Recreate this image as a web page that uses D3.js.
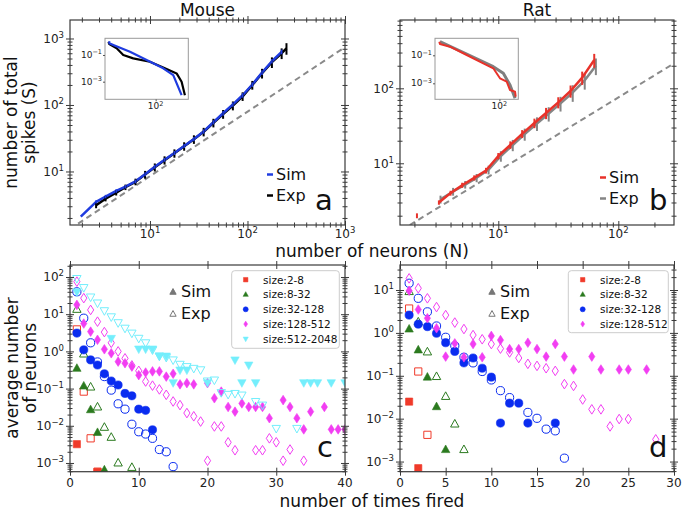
<!DOCTYPE html>
<html><head><meta charset="utf-8">
<script src="https://cdn.jsdelivr.net/npm/d3@7"></script>
<style>body{margin:0;background:#fff}svg{display:block}text{font-family:"DejaVu Sans",sans-serif;fill:#111}</style>
</head><body><svg id="chart" width="685" height="511"></svg>
<script>
// ---------- DATA ----------
// Panel a (Mouse): total spikes S vs neurons N
const mouseSimN = [1.95, 2.8, 3.5, 4.5, 5.6, 7.1, 8.9, 11.2, 14.1, 17.8, 22.4, 28.2, 35.5, 44.7, 56.2, 70.8, 89.1, 112, 141, 178, 224];
const mouseSimS = [2.1, 3.5, 4.2, 5.1, 5.9, 7.1, 9.1, 11.8, 15, 19, 24.2, 30.7, 40, 55, 75, 102, 140, 203, 307, 455, 630];
const mouseSimErr = [0, 0.2, 0.25, 0.3, 0.35, 0.45, 0.6, 0.8, 1.0, 1.3, 1.7, 2.2, 3, 4, 6, 8, 11, 16, 25, 35, 50];
const mouseExpN = [2.8, 3.5, 4.5, 5.6, 7.1, 8.9, 11.2, 14.1, 17.8, 22.4, 28.2, 35.5, 44.7, 56.2, 70.8, 89.1, 112, 141, 178, 224, 251];
const mouseExpS = [3.1, 3.9, 4.8, 5.8, 7.0, 9.0, 11.6, 14.8, 18.8, 24, 30.5, 39.5, 54, 73, 98, 135, 200, 300, 440, 600, 710];
const mouseExpErr = [0.3, 0.35, 0.45, 0.55, 0.8, 1.2, 1.6, 2.1, 2.7, 3.5, 4.5, 5.8, 8, 11, 15, 20, 30, 50, 80, 110, 140];
const mouseRefN = [1.83, 1000];
const mouseRefS = [1.64, 740];
// Panel a inset: P(S)
const insetMouseSimS = [2.14, 2.14, 2.99, 11.9, 47.4, 187.5, 430, 646, 861];
const insetMouseSimP = [1.05, 0.75, 0.557, 0.175, 0.0417, 0.01, 0.00309, 0.000407, 0.0000977];
const insetMouseExpS = [2.0, 2.14, 3.95, 6.82, 15.6, 61.7, 187.5, 569, 861, 1132];
const insetMouseExpP = [0.95, 0.66, 0.316, 0.1, 0.056, 0.031, 0.0117, 0.00417, 0.00098, 0.0000977];

// Panel b (Rat)
const ratSimN = [3.2, 4.0, 5.0, 6.3, 7.9, 10, 12.6, 15.8, 20, 25, 31.6, 40, 50, 63];
const ratSimS = [3.0, 4.0, 5.1, 6.4, 8.0, 12.5, 17.6, 24.7, 34.4, 46.8, 65, 92, 139, 238];
const ratSimErr = [0.2, 0.3, 0.4, 0.5, 0.7, 1.2, 2, 3, 5, 8, 11, 17, 28, 50];
const ratLoneN = [2.1];
const ratLoneS = [2.0];
const ratLoneErr = [0.15];
const ratExpN = [3.3, 4.2, 5.3, 6.6, 8.3, 10.5, 13.2, 16.6, 21, 26.3, 33, 41.7, 52.5, 65];
const ratExpS = [3.3, 4.2, 5.2, 6.4, 8.2, 12.5, 17.5, 24.5, 34, 46, 63, 88, 128, 200];
const ratExpErr = [0.4, 0.5, 0.6, 0.8, 1.1, 2, 3, 4.5, 7, 10, 14, 22, 32, 50];
const ratRefN = [1.83, 291];
const ratRefS = [1.5, 215];
const insetRatSimS = [2.36, 2.45, 4.59, 13.0, 36.6, 68.4, 103.7, 157.8, 194, 265, 277];
const insetRatSimP = [0.935, 0.641, 0.411, 0.105, 0.0268, 0.0118, 0.00228, 0.0013, 0.000332, 0.000251, 0.00011];
const insetRatExpS = [2.45, 13.0, 68.4, 127.6, 194, 265];
const insetRatExpP = [0.935, 0.124, 0.0155, 0.00518, 0.00076, 0.0000851];

// Panel c (Mouse): average number of neurons vs number of times fired
const cRedSimX = [1, 4], cRedSimY = [0.0032, 0.00058];
const cRedExpX = [1, 2, 3, 4], cRedExpY = [3.9, 0.083, 0.0046, 0.00058];
const cGreenSimX = [1, 2, 3, 4, 5], cGreenSimY = [0.35, 0.117, 0.027, 0.0066, 0.00065];
const cGreenExpX = [1, 2, 3, 4, 5, 6, 7, 9], cGreenExpY = [13.5, 0.85, 0.11, 0.032, 0.0091, 0.0049, 0.001, 0.00076];
const cBlueSimX = [1, 2, 3, 4, 5, 6, 7, 8, 9, 10, 11, 12];
const cBlueSimY = [3.1, 1.1, 0.59, 0.43, 0.25, 0.16, 0.125, 0.074, 0.064, 0.028, 0.026, 0.0078];
const cBlueExpX = [1, 2, 3, 4, 5, 6, 7, 8, 9, 10, 11, 12, 13, 14, 15];
const cBlueExpY = [40, 7.8, 1.7, 0.52, 0.21, 0.091, 0.039, 0.028, 0.011, 0.0069, 0.006, 0.0046, 0.0023, 0.002, 0.0008];
const cMagSimX = [1, 2, 3, 4, 5, 6, 7, 8, 9, 10, 11, 12, 13, 14, 15, 16, 17, 18, 20, 21, 22, 23, 24, 25, 26, 27, 28, 29, 31, 32, 33, 34, 35, 37, 38, 39, 40];
const cMagSimY = [17.8, 5.6, 3.4, 2.05, 1.14, 0.89, 0.53, 0.48, 0.39, 0.23, 0.27, 0.29, 0.29, 0.21, 0.25, 0.13, 0.14, 0.13, 0.14, 0.055, 0.083, 0.032, 0.024, 0.04, 0.032, 0.032, 0.032, 0.016, 0.049, 0.032, 0.016, 0.008, 0.024, 0.032, 0.008, 0.008, 0.008];
const cMagExpX = [1, 2, 3, 4, 5, 6, 7, 8, 9, 10, 11, 12, 13, 14, 15, 16, 17, 18, 19, 20, 21, 22, 23, 24, 27, 28, 29, 30, 31, 32, 34];
const cMagExpY = [75, 27, 13, 6.3, 3.3, 1.7, 1.0, 0.65, 0.42, 0.3, 0.155, 0.12, 0.095, 0.068, 0.045, 0.036, 0.022, 0.018, 0.013, 0.00115, 0.0096, 0.0096, 0.0036, 0.0022, 0.0022, 0.0022, 0.0046, 0.0036, 0.00115, 0.0023, 0.00115];
const cCyanSimX = [1, 6, 10, 11, 12, 13, 14, 15, 16, 17, 20, 24, 25, 26, 27, 34, 35, 36, 38, 40];
const cCyanSimY = [40, 2.24, 1.16, 1.16, 1.16, 0.75, 0.75, 0.144, 0.316, 0.316, 0.144, 0.59, 0.144, 0.43, 0.144, 0.144, 0.144, 0.144, 0.144, 0.144];
const cCyanExpX = [1, 2, 3, 4, 5, 6, 7, 8, 9, 10, 11, 12, 13, 14, 15, 16, 17, 18, 19, 20, 21, 22, 23, 24, 25, 27, 28, 30, 33];
const cCyanExpY = [91, 52, 29, 20, 12.4, 8.5, 5.9, 4.2, 3.1, 2.25, 1.7, 1.1, 0.75, 0.69, 0.59, 0.45, 0.39, 0.35, 0.32, 0.16, 0.17, 0.078, 0.07, 0.074, 0.067, 0.045, 0.036, 0.0085, 0.0085];

// Panel d (Rat)
const dRedSimX = [1, 2], dRedSimY = [0.025, 0.0007];
const dRedExpX = [1, 2, 3], dRedExpY = [3.7, 0.126, 0.0042];
const dGreenSimX = [1, 2, 3, 4, 5], dGreenSimY = [1.23, 0.4, 0.093, 0.019, 0.0019];
const dGreenExpX = [1, 2, 3, 4, 5, 6, 7], dGreenExpY = [9.2, 1.8, 0.36, 0.096, 0.033, 0.0075, 0.0019];
const dBlueSimX = [1, 2, 3, 4, 5, 6, 7, 8, 9, 10, 11, 12, 13, 14, 17];
const dBlueSimY = [2.6, 1.6, 1.4, 0.98, 0.59, 0.37, 0.2, 0.26, 0.15, 0.093, 0.0079, 0.023, 0.023, 0.0079, 0.0079];
const dBlueExpX = [1, 2, 3, 4, 5, 6, 7, 8, 9, 10, 11, 12, 14, 15, 16, 17, 18];
const dBlueExpY = [14.4, 6.4, 3.1, 1.45, 0.79, 0.5, 0.27, 0.2, 0.126, 0.08, 0.045, 0.031, 0.014, 0.0102, 0.0057, 0.0052, 0.0012];
const dMagSimX = [1, 2, 3, 4, 5, 6, 7, 8, 9, 10, 11, 12, 13, 14, 15, 16, 17, 18, 19, 21, 22, 24, 25, 27];
const dMagSimY = [9.6, 3.5, 2.2, 1.28, 0.28, 0.57, 0.27, 0.55, 0.27, 0.85, 0.68, 0.42, 0.42, 0.59, 0.42, 0.28, 0.55, 0.28, 0.14, 0.28, 0.14, 0.14, 0.14, 0.14];
const dMagExpX = [1, 2, 3, 4, 5, 6, 7, 8, 9, 10, 11, 12, 13, 14, 15, 16, 17, 18, 19, 20, 21, 22, 23, 24, 25, 28];
const dMagExpY = [18.7, 11, 6.4, 4, 2.6, 1.74, 1.23, 0.89, 0.71, 0.55, 0.43, 0.35, 0.26, 0.19, 0.17, 0.15, 0.13, 0.064, 0.058, 0.028, 0.0165, 0.0165, 0.0066, 0.0098, 0.0098, 0.0033];

const sizeLabelsC = ["size:2-8", "size:8-32", "size:32-128", "size:128-512", "size:512-2048"];
const sizeLabelsD = ["size:2-8", "size:8-32", "size:32-128", "size:128-512"];
const xTicksC = [0, 10, 20, 30, 40];
const xTicksD = [0, 5, 10, 15, 20, 25, 30];

// ---------- STYLE ----------
const COL = {red: "#f03a2a", green: "#2b7a1f", blue: "#0a2cf0", mag: "#f23ef2", cyan: "#74eefc",
  simA: "#1f3ce0", expA: "#000", simB: "#e8322a", expB: "#858585", ref: "#8a8a8a", spine: "#3a3a3a"};
const svg = d3.select("#chart");

function logTickVals(dom) {
  const maj = [], min = [];
  const lo = Math.floor(Math.log10(dom[0])), hi = Math.ceil(Math.log10(dom[1]));
  for (let e = lo; e <= hi; e++) for (let m = 1; m <= 9; m++) {
    const v = m * Math.pow(10, e);
    if (v >= dom[0] * 0.9999 && v <= dom[1] * 1.0001) (m === 1 ? maj : min).push(v);
  }
  return {maj, min};
}
function tickSet(g, axisFn, scale, vals, tr, len) {
  [len, -len].forEach(L => {
    const a = g.append("g").attr("transform", tr)
      .call(axisFn(scale).tickValues(vals).tickSizeInner(L).tickSizeOuter(0).tickFormat(""));
    a.select(".domain").remove();
    a.selectAll("line").attr("stroke", COL.spine).attr("stroke-width", 1);
  });
}
function supLabel(g, x, y, e, anchor, fs, sfs) {
  const t = g.append("text").attr("x", x).attr("y", y).attr("text-anchor", anchor).attr("font-size", fs).style("fill", "#222");
  t.append("tspan").text("10");
  t.append("tspan").attr("font-size", sfs).attr("dy", -fs * 0.42).text(e < 0 ? "\u2212" + (-e) : String(e));
}
let clipId = 0;
function makePanel(p) {
  const g = svg.append("g");
  const id = "clip" + (clipId++);
  g.append("clipPath").attr("id", id).append("rect").attr("x", p.x0).attr("y", p.y0).attr("width", p.x1 - p.x0).attr("height", p.y1 - p.y0);
  const plot = g.append("g").attr("clip-path", `url(#${id})`);
  const axes = g.append("g");
  const xs = p.xs, ys = p.ys;
  let xMaj, xMin = [];
  if (p.xLog) { const t = logTickVals(xs.domain()); xMaj = t.maj; xMin = t.min; } else xMaj = p.xTicks;
  const yt = logTickVals(ys.domain());
  tickSet(axes, d3.axisBottom, xs, xMaj, `translate(0,${p.y1})`, 4);
  tickSet(axes, d3.axisTop, xs, xMaj, `translate(0,${p.y0})`, 4);
  if (xMin.length) { tickSet(axes, d3.axisBottom, xs, xMin, `translate(0,${p.y1})`, 2.5); tickSet(axes, d3.axisTop, xs, xMin, `translate(0,${p.y0})`, 2.5); }
  tickSet(axes, d3.axisLeft, ys, yt.maj, `translate(${p.x0},0)`, 4);
  tickSet(axes, d3.axisRight, ys, yt.maj, `translate(${p.x1},0)`, 4);
  tickSet(axes, d3.axisLeft, ys, yt.min, `translate(${p.x0},0)`, 2.5);
  tickSet(axes, d3.axisRight, ys, yt.min, `translate(${p.x1},0)`, 2.5);
  axes.append("rect").attr("x", p.x0).attr("y", p.y0).attr("width", p.x1 - p.x0).attr("height", p.y1 - p.y0)
    .attr("fill", "none").attr("stroke", COL.spine).attr("stroke-width", 1.2);
  if (p.xLog) xMaj.forEach(v => supLabel(axes, xs(v), p.y1 + 13, Math.round(Math.log10(v)), "middle", 12, 8.5));
  else xMaj.forEach(v => axes.append("text").attr("x", xs(v)).attr("y", p.y1 + 15).attr("text-anchor", "middle").attr("font-size", 12).style("fill", "#222").text(v));
  yt.maj.forEach(v => supLabel(axes, p.x0 - 6, ys(v) + 4.3, Math.round(Math.log10(v)), "end", 12, 8.5));
  return {g, plot, axes, xs, ys};
}

const panelA = makePanel({x0: 70, x1: 345, y0: 20, y1: 225, xLog: true,
  xs: d3.scaleLog().domain([1.512, 1000]).range([70, 345]),
  ys: d3.scaleLog().domain([1.567, 1897]).range([225, 20])});
const panelB = makePanel({x0: 400, x1: 674, y0: 20, y1: 225, xLog: true,
  xs: d3.scaleLog().domain([1.517, 291]).range([400, 674]),
  ys: d3.scaleLog().domain([1.503, 815]).range([225, 20])});
const panelC = makePanel({x0: 70, x1: 345, y0: 265, y1: 471.7, xLog: false, xTicks: xTicksC,
  xs: d3.scaleLinear().domain([0, 40]).range([70, 345]),
  ys: d3.scaleLog().domain([5.83e-4, 210]).range([471.7, 265])});
const panelD = makePanel({x0: 400, x1: 674, y0: 265, y1: 471.7, xLog: false, xTicks: xTicksD,
  xs: d3.scaleLinear().domain([0, 30]).range([400, 674]),
  ys: d3.scaleLog().domain([5.8e-4, 38.3]).range([471.7, 265])});

function zip(a, b, c) { return a.map((v, i) => ({x: v, y: b[i], e: c ? c[i] : 0})); }
function drawLine(P, pts, color, w, dash) {
  const line = d3.line().x(d => P.xs(d.x)).y(d => P.ys(d.y));
  const path = P.plot.append("path").attr("d", line(pts)).attr("fill", "none").attr("stroke", color).attr("stroke-width", w).attr("stroke-linejoin", "round");
  if (dash) path.attr("stroke-dasharray", dash);
}
function drawBars(P, pts, color, w) {
  P.plot.selectAll(null).data(pts.filter(d => d.e > 0)).enter().append("line")
    .attr("x1", d => P.xs(d.x)).attr("x2", d => P.xs(d.x))
    .attr("y1", d => P.ys(d.y - d.e)).attr("y2", d => P.ys(d.y + d.e))
    .attr("stroke", color).attr("stroke-width", w);
}

// Panel a
drawLine(panelA, zip(mouseRefN, mouseRefS), COL.ref, 2, "6,4");
drawLine(panelA, zip(mouseExpN, mouseExpS), COL.expA, 2.5);
drawLine(panelA, zip(mouseSimN, mouseSimS), COL.simA, 2.5);
drawBars(panelA, zip(mouseExpN, mouseExpS, mouseExpErr), COL.expA, 2);
drawBars(panelA, zip(mouseSimN, mouseSimS, mouseSimErr), COL.simA, 1.6);
// Panel b
drawLine(panelB, zip(ratRefN, ratRefS), COL.ref, 2, "6,4");
drawLine(panelB, zip(ratExpN, ratExpS), COL.expB, 2.5);
drawBars(panelB, zip(ratExpN, ratExpS, ratExpErr), COL.expB, 2);
drawLine(panelB, zip(ratSimN, ratSimS), COL.simB, 2.5);
drawBars(panelB, zip(ratSimN, ratSimS, ratSimErr), COL.simB, 2);
drawBars(panelB, zip(ratLoneN, ratLoneS, ratLoneErr), COL.simB, 2);

// Insets
function inset(box, xd, yd, series, xTick, yTicks) {
  const g = svg.append("g");
  g.append("rect").attr("x", box[0]).attr("y", box[1]).attr("width", box[2] - box[0]).attr("height", box[3] - box[1]).attr("fill", "#fff");
  const xs = d3.scaleLog().domain(xd).range([box[0], box[2]]);
  const ys = d3.scaleLog().domain(yd).range([box[3], box[1]]);
  const id = "clip" + (clipId++);
  g.append("clipPath").attr("id", id).append("rect").attr("x", box[0]).attr("y", box[1]).attr("width", box[2] - box[0]).attr("height", box[3] - box[1]);
  const pl = g.append("g").attr("clip-path", `url(#${id})`);
  series.forEach(s => {
    const line = d3.line().x(d => xs(d.x)).y(d => ys(d.y));
    pl.append("path").attr("d", line(zip(s.x, s.y))).attr("fill", "none").attr("stroke", s.c).attr("stroke-width", s.w).attr("stroke-linejoin", "round");
  });
  g.append("rect").attr("x", box[0]).attr("y", box[1]).attr("width", box[2] - box[0]).attr("height", box[3] - box[1]).attr("fill", "none").attr("stroke", "#999").attr("stroke-width", 1);
  const ax = g.append("g").attr("transform", `translate(0,${box[3]})`).call(d3.axisBottom(xs).tickValues([xTick]).tickSize(2).tickFormat(""));
  ax.select(".domain").remove(); ax.selectAll("line").attr("stroke", "#555");
  const ay = g.append("g").attr("transform", `translate(${box[0]},0)`).call(d3.axisLeft(ys).tickValues(yTicks).tickSize(2).tickFormat(""));
  ay.select(".domain").remove(); ay.selectAll("line").attr("stroke", "#555");
  supLabel(g, xs(xTick), box[3] + 10, Math.round(Math.log10(xTick)), "middle", 9, 6.5);
  yTicks.forEach(v => supLabel(g, box[0] - 3, ys(v) + 3, Math.round(Math.log10(v)), "end", 9, 6.5));
}
inset([105, 38.3, 188.3, 99.3], [1.5, 1500], [4.79e-5, 1.778],
  [{x: insetMouseExpS, y: insetMouseExpP, c: "#000", w: 2.2}, {x: insetMouseSimS, y: insetMouseSimP, c: COL.simA, w: 2.2}], 100, [0.1, 0.001]);
inset([435, 38.3, 518.3, 99.3], [1.8, 325], [7.24e-5, 1.637],
  [{x: insetRatExpS, y: insetRatExpP, c: "#7f7f7f", w: 3}, {x: insetRatSimS, y: insetRatSimP, c: COL.simB, w: 2}], 100, [0.1, 0.001]);

// Scatter markers
const SHAPES = {
  square: s => `M${-3.6*s},${-3.6*s}h${7.2*s}v${7.2*s}h${-7.2*s}Z`,
  triUp: s => `M0,${-4.6*s}L${4.2*s},${3.0*s}L${-4.2*s},${3.0*s}Z`,
  triDown: s => `M0,${4.6*s}L${4.2*s},${-3.0*s}L${-4.2*s},${-3.0*s}Z`,
  circle: s => `M${4.1*s},0A${4.1*s},${4.1*s} 0 1,1 ${-4.1*s},0A${4.1*s},${4.1*s} 0 1,1 ${4.1*s},0Z`,
  diamond: s => `M0,${-4.8*s}L${3.1*s},0L0,${4.8*s}L${-3.1*s},0Z`
};
function scatter(P, xArr, yArr, shape, color, filled) {
  P.plot.selectAll(null).data(zip(xArr, yArr)).enter().append("path")
    .attr("d", SHAPES[shape](1))
    .attr("transform", d => `translate(${P.xs(d.x)},${P.ys(d.y)})`)
    .attr("fill", filled ? color : "none").attr("stroke", color).attr("stroke-width", filled ? 0.6 : 1);
}
scatter(panelC, cRedSimX, cRedSimY, "square", COL.red, true);
scatter(panelC, cRedExpX, cRedExpY, "square", COL.red, false);
scatter(panelC, cGreenSimX, cGreenSimY, "triUp", COL.green, true);
scatter(panelC, cGreenExpX, cGreenExpY, "triUp", COL.green, false);
scatter(panelC, cBlueSimX, cBlueSimY, "circle", COL.blue, true);
scatter(panelC, cBlueExpX, cBlueExpY, "circle", COL.blue, false);
scatter(panelC, cMagSimX, cMagSimY, "diamond", COL.mag, true);
scatter(panelC, cMagExpX, cMagExpY, "diamond", COL.mag, false);
scatter(panelC, cCyanSimX, cCyanSimY, "triDown", COL.cyan, true);
scatter(panelC, cCyanExpX, cCyanExpY, "triDown", COL.cyan, false);
scatter(panelD, dRedSimX, dRedSimY, "square", COL.red, true);
scatter(panelD, dRedExpX, dRedExpY, "square", COL.red, false);
scatter(panelD, dGreenSimX, dGreenSimY, "triUp", COL.green, true);
scatter(panelD, dGreenExpX, dGreenExpY, "triUp", COL.green, false);
scatter(panelD, dBlueSimX, dBlueSimY, "circle", COL.blue, true);
scatter(panelD, dBlueExpX, dBlueExpY, "circle", COL.blue, false);
scatter(panelD, dMagSimX, dMagSimY, "diamond", COL.mag, true);
scatter(panelD, dMagExpX, dMagExpY, "diamond", COL.mag, false);

// ---------- TEXT ----------
function txt(x, y, s, fs, anchor, rot) {
  const t = svg.append("text").attr("font-size", fs).attr("text-anchor", anchor || "start").text(s);
  if (rot) t.attr("transform", `translate(${x},${y}) rotate(${rot})`); else t.attr("x", x).attr("y", y);
  return t;
}
txt(207.5, 15.5, "Mouse", 17, "middle");
txt(537, 15.5, "Rat", 17, "middle");
txt(17, 122.5, "number of total", 17, "middle", -90);
txt(35, 122.5, "spikes (S)", 17, "middle", -90);
txt(18, 368, "average number", 17, "middle", -90);
txt(36, 368, "of neurons", 17, "middle", -90);
txt(372, 257, "number of neurons (N)", 17, "middle");
txt(372, 507, "number of times fired", 17, "middle");
txt(315, 210, "a", 29);
txt(649, 210, "b", 29);
txt(317, 457, "c", 29);
txt(649, 457, "d", 29);

function lineLegend(x, y, items) {
  items.forEach((it, i) => {
    const yy = y + i * 21;
    svg.append("line").attr("x1", x).attr("x2", x + 6).attr("y1", yy - 5.5).attr("y2", yy - 5.5).attr("stroke", it.c).attr("stroke-width", 2.5);
    txt(x + 9, yy, it.t, 16);
  });
}
lineLegend(267, 180, [{t: "Sim", c: COL.simA}, {t: "Exp", c: "#000"}]);
lineLegend(600, 183, [{t: "Sim", c: COL.simB}, {t: "Exp", c: COL.expB}]);

function markLegend(x, y) {
  svg.append("path").attr("d", SHAPES.triUp(0.75)).attr("transform", `translate(${x},${y - 5})`).attr("fill", "#777").attr("stroke", "#777");
  txt(x + 8, y, "Sim", 16);
  svg.append("path").attr("d", SHAPES.triUp(0.75)).attr("transform", `translate(${x},${y + 17})`).attr("fill", "none").attr("stroke", "#777");
  txt(x + 8, y + 22, "Exp", 16);
}
markLegend(173, 297);
markLegend(492, 297);

const legendShapes = ["square", "triUp", "circle", "diamond", "triDown"];
const legendCols = [COL.red, COL.green, COL.blue, COL.mag, COL.cyan];
function sizeLegend(box, labels, mx, tx) {
  svg.append("rect").attr("x", box[0]).attr("y", box[1]).attr("width", box[2] - box[0]).attr("height", box[3] - box[1])
    .attr("rx", 3).attr("fill", "#fff").attr("fill-opacity", 0.85).attr("stroke", "#ccc");
  labels.forEach((l, i) => {
    const yy = box[1] + 9 + i * 14.8;
    svg.append("path").attr("d", SHAPES[legendShapes[i]](0.62)).attr("transform", `translate(${mx},${yy})`).attr("fill", legendCols[i]).attr("stroke", legendCols[i]).attr("stroke-width", 0.5);
    txt(tx, yy + 3.8, l, 10.5);
  });
}
sizeLegend([231.7, 270.7, 339.3, 348.3], sizeLabelsC, 245.7, 263);
sizeLegend([568.3, 270.7, 668.3, 332.7], sizeLabelsD, 582.7, 600);
</script></body></html>
